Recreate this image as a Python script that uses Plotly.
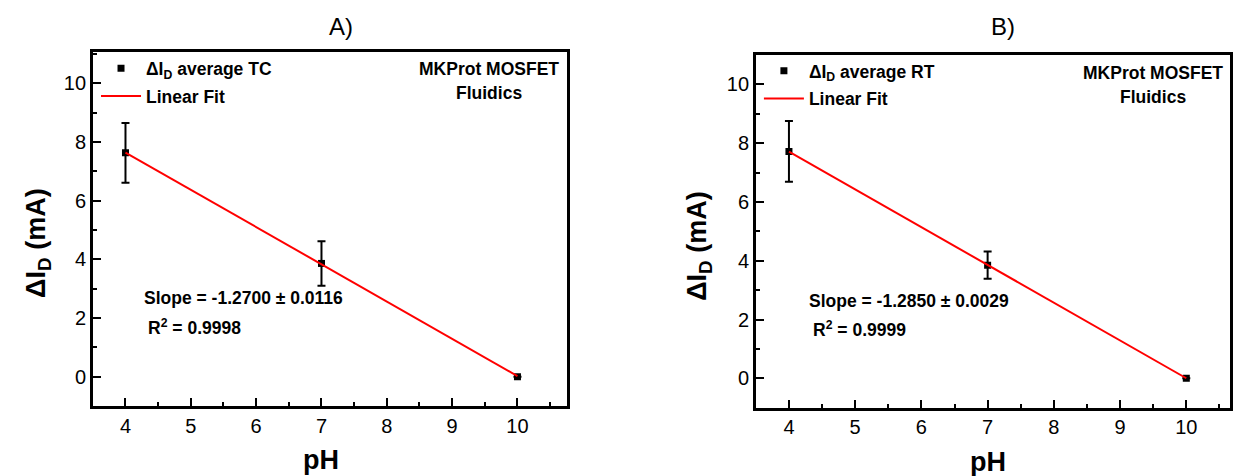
import numpy as np
import plotly.graph_objects as go

# Measured drain-current change versus pH for the two fluidic setups
ph = [4, 7, 10]
di_tc = [7.63, 3.86, 0.0]
err_tc = [1.02, 0.76, 0.0]
di_rt = [7.72, 3.85, 0.0]
err_rt = [1.03, 0.46, 0.0]

# Linear fit parameters reported for each series
slope_tc, slope_tc_err, r2_tc = -1.2700, 0.0116, 0.9998
slope_rt, slope_rt_err, r2_rt = -1.2850, 0.0029, 0.9999

x_ticks = [4, 5, 6, 7, 8, 9, 10]
y_ticks = [0, 2, 4, 6, 8, 10]

FONT = "Liberation Sans, Arial, sans-serif"


def fit_line(x, y, slope):
    x = np.asarray(x, float)
    y = np.asarray(y, float)
    intercept = y.mean() - slope * x.mean()
    xs = np.array([x.min(), x.max()])
    return xs, intercept + slope * xs


fig = go.Figure()

panels = [
    ("x", "y", "legend", di_tc, err_tc, slope_tc, "TC"),
    ("x2", "y2", "legend2", di_rt, err_rt, slope_rt, "RT"),
]

for xa, ya, leg, vals, errs, slope, tag in panels:
    fig.add_trace(go.Scatter(
        x=ph, y=vals, mode="markers", xaxis=xa, yaxis=ya,
        marker=dict(symbol="square", size=7, color="black"),
        error_y=dict(type="data", array=errs, color="black", thickness=2, width=4),
        name=f"<b>ΔI<sub>D</sub> average {tag}</b>",
        legend=leg, legendgroup=f"pts{tag}", showlegend=True,
    ))
    fx, fy = fit_line(ph, vals, slope)
    fig.add_trace(go.Scatter(
        x=fx, y=fy, mode="lines", xaxis=xa, yaxis=ya,
        line=dict(color="#ff0000", width=2),
        name="<b>Linear Fit</b>",
        legend=leg, legendgroup=f"fit{tag}", showlegend=True,
    ))

axis_common = dict(
    showline=True, linecolor="black", linewidth=2.5, mirror=True,
    ticks="inside", ticklen=8, tickwidth=2, tickcolor="black",
    showgrid=False, zeroline=False,
    tickfont=dict(family=FONT, size=20, color="black"),
)
minor_x = dict(ticks="inside", ticklen=4, tickwidth=2, tickcolor="black", dtick=0.5)
minor_y = dict(ticks="inside", ticklen=4, tickwidth=2, tickcolor="black", dtick=1)
legend_font = dict(family=FONT, size=17.5, color="black")

fig.update_layout(
    width=1233, height=476,
    margin=dict(l=0, r=0, t=0, b=0),
    paper_bgcolor="white", plot_bgcolor="white",
    showlegend=True,
    xaxis=dict(domain=[0.0754, 0.4607], range=[3.5, 10.76], tickvals=x_ticks,
               minor=minor_x, anchor="y", **axis_common),
    yaxis=dict(domain=[0.147, 0.891], range=[-1, 11.07], tickvals=y_ticks,
               minor=minor_y, anchor="x", **axis_common),
    xaxis2=dict(domain=[0.614, 0.9992], range=[3.5, 10.66], tickvals=x_ticks,
                minor=minor_x, anchor="y2", **axis_common),
    yaxis2=dict(domain=[0.1435, 0.8845], range=[-1, 11.0], tickvals=y_ticks,
                minor=minor_y, anchor="x2", **axis_common),
    legend=dict(x=0.078, y=0.894, xanchor="left", yanchor="top",
                bgcolor="rgba(0,0,0,0)", tracegroupgap=2, itemwidth=40,
                font=legend_font),
    legend2=dict(x=0.6165, y=0.889, xanchor="left", yanchor="top",
                 bgcolor="rgba(0,0,0,0)", tracegroupgap=2, itemwidth=40,
                 font=legend_font),
)

bold = dict(family=FONT, size=17.5, color="black")
notes = [
    # panel A
    dict(x=10.66, y=10.49, xref="x", yref="y", text="<b>MKProt MOSFET</b>", xanchor="right"),
    dict(x=9.56, y=9.67, xref="x", yref="y", text="<b>Fluidics</b>", xanchor="center"),
    dict(x=4.26, y=2.68, xref="x", yref="y",
         text=f"<b>Slope = {slope_tc:.4f} ± {slope_tc_err:.4f}</b>", xanchor="left"),
    dict(x=4.31, y=1.69, xref="x", yref="y",
         text=f"<b>R<sup>2</sup> = {r2_tc:.4f}</b>", xanchor="left"),
    # panel B
    dict(x=10.59, y=10.38, xref="x2", yref="y2", text="<b>MKProt MOSFET</b>", xanchor="right"),
    dict(x=9.50, y=9.57, xref="x2", yref="y2", text="<b>Fluidics</b>", xanchor="center"),
    dict(x=4.27, y=2.62, xref="x2", yref="y2",
         text=f"<b>Slope = {slope_rt:.4f} ± {slope_rt_err:.4f}</b>", xanchor="left"),
    dict(x=4.33, y=1.67, xref="x2", yref="y2",
         text=f"<b>R<sup>2</sup> = {r2_rt:.4f}</b>", xanchor="left"),
]
for n in notes:
    fig.add_annotation(showarrow=False, yanchor="middle", font=bold, **n)

# Panel labels and axis titles
title_font = dict(family=FONT, size=24, color="black")
axis_title_font = dict(family=FONT, size=27, color="black")
for x, label in [(342, "A)"), (1005, "B)")]:
    fig.add_annotation(x=x / 1233, y=1 - 26 / 476, xref="paper", yref="paper",
                       text=label, showarrow=False, font=title_font,
                       xanchor="center", yanchor="middle")
for x, y in [(322, 460), (990, 462)]:
    fig.add_annotation(x=x / 1233, y=1 - y / 476, xref="paper", yref="paper",
                       text="<b>pH</b>", showarrow=False, font=axis_title_font,
                       xanchor="center", yanchor="middle")
for x, y in [(38, 243), (700, 246)]:
    fig.add_annotation(x=x / 1233, y=1 - y / 476, xref="paper", yref="paper",
                       text="<b>ΔI<sub>D</sub> (mA)</b>", showarrow=False, textangle=-90,
                       font=dict(family=FONT, size=27, color="black"),
                       xanchor="center", yanchor="middle")

fig.write_html("out.html")
